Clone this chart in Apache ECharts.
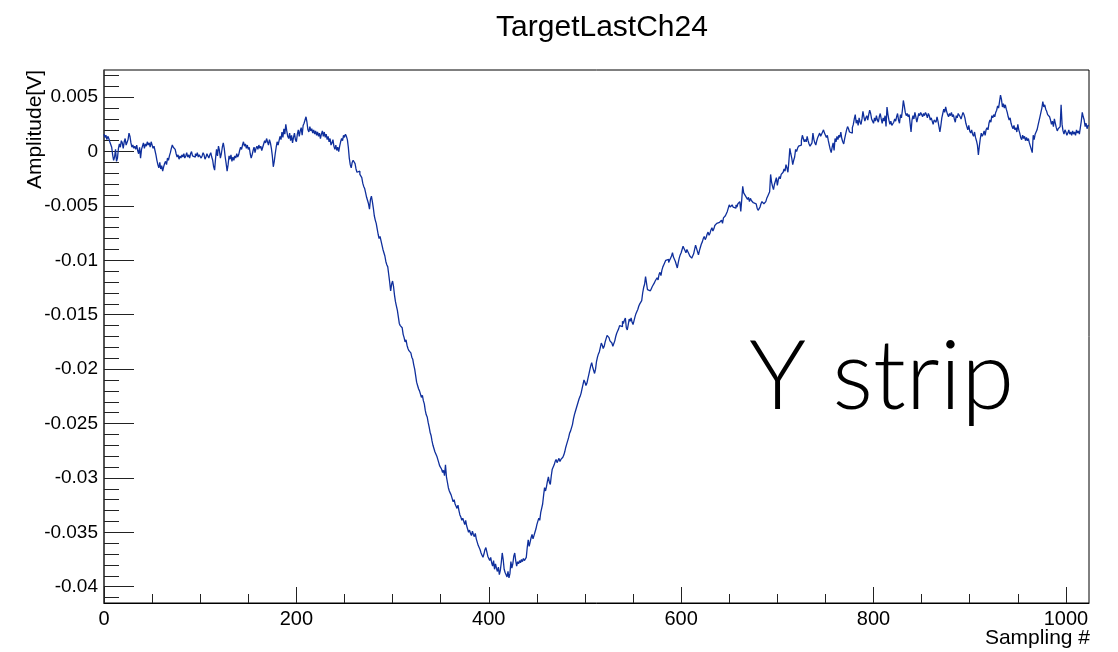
<!DOCTYPE html>
<html>
<head>
<meta charset="utf-8">
<title>TargetLastCh24</title>
<script src="https://cdn.jsdelivr.net/npm/echarts@6/dist/echarts.min.js"></script>
<style>
  html, body { margin: 0; padding: 0; background: #fff; }
  #chart { width: 1118px; height: 652px; }
</style>
</head>
<body>
<div id="chart"></div>
<script>
// Waveform amplitude per sampling bin, in millivolts (bins 0..1023)
const amplitudeMilliVolts = [
  1.6, 1.3, 1.5, 1.1, 1.4, 1.2, 0.9, 1.0, 0.4, -0.3, -0.8, -0.5, 0.2, -0.9, -0.6, 0.3,
  0.7, 0.4, 1.0, 0.8, 0.3, 0.9, 1.2, 0.6, 0.5, 1.1, 1.7, 1.4, 0.8, 0.4, 0.6, 0.3,
  0.5, 0.2, 0.6, 0.1, -0.2, 0.4, -0.6, 0.2, 0.5, 0.8, 0.3, 0.7, 0.5, 0.9, 0.6, 0.8,
  0.4, 0.9, 0.6, 0.3, 0.5, 0.1, -0.3, -0.8, -1.2, -1.5, -1.0, -1.6, -1.3, -1.8, -1.4, -1.1,
  -0.9, -1.2, -0.6, -0.8, -0.4, -0.1, 0.3, 0.6, 0.4, 0.5, 0.2, -0.2, -0.5, -0.3, -0.7, -0.4,
  -0.6, -0.3, -0.5, -0.2, -0.6, -0.4, -0.1, -0.5, -0.3, -0.6, -0.2, 0.0, -0.4, -0.3, -0.5, -0.2,
  -0.4, -0.1, -0.5, -0.3, -0.2, -0.6, -0.4, -0.1, -0.3, -0.7, -0.5, -0.2, -0.4, -0.6, -0.3, -0.1,
  -0.5, -0.8, -1.4, -1.7, -0.6, 0.2, -0.4, 0.5, 0.1, -0.6, -0.2, 0.4, 0.8, 0.3, -0.5, -1.1,
  -1.8, -1.2, -0.4, -0.7, -0.3, -0.9, -0.5, -0.8, -0.4, -0.6, -0.2, -0.5, -0.3, 0.1, 0.4, 0.2,
  0.6, 0.9, 0.5, 0.7, 0.3, 0.6, 0.2, 0.4, -0.2, -0.6, -0.3, 0.1, 0.4, -0.1, 0.3, 0.5,
  0.2, 0.6, 0.3, 0.5, 0.1, 0.4, 0.7, 1.0, 0.8, 1.2, 0.9, 0.6, 1.1, 0.8, 0.3, -0.4,
  -1.4, -0.9, -0.2, 0.4, 0.9, 0.6, 1.0, 1.4, 1.1, 1.8, 1.3, 2.1, 1.6, 2.5, 1.9, 1.4,
  1.2, 1.7, 1.0, 1.5, 0.8, 1.3, 1.7, 1.1, 0.9, 1.6, 2.0, 1.4, 1.9, 2.2, 1.5, 2.4,
  2.6, 2.9, 3.2, 2.7, 2.0, 1.8, 2.3, 1.9, 2.1, 1.7, 2.0, 1.6, 1.9, 1.5, 1.8, 1.4,
  1.7, 1.2, 1.6, 1.9, 1.4, 1.8, 1.3, 1.6, 1.1, 1.4, 0.9, 1.2, 0.6, 0.8, 1.1, 0.5,
  0.2, 0.6, 0.1, 0.4, 0.0, 0.5, 0.9, 1.2, 1.0, 1.5, 1.3, 1.6, 1.4, 1.1, 0.4, -0.6,
  -1.2, -1.5, -1.0, -0.8, -0.7, -1.1, -1.6, -1.9, -2.0, -1.8, -2.1, -2.0, -2.4, -2.9, -3.2, -3.4,
  -3.8, -4.2, -4.5, -4.8, -5.3, -4.4, -4.1, -4.6, -5.2, -5.9, -6.3, -6.6, -7.1, -7.6, -8.0, -7.8,
  -8.2, -8.6, -9.0, -9.3, -9.6, -10.1, -10.4, -10.6, -11.3, -12.0, -12.8, -12.2, -11.9, -12.4, -13.2, -13.8,
  -14.2, -14.6, -15.2, -15.8, -16.0, -15.9, -16.2, -16.8, -17.1, -17.5, -17.3, -17.8, -18.1, -18.3, -18.2, -18.5,
  -18.9, -19.1, -19.6, -20.0, -20.6, -21.2, -21.5, -21.8, -22.0, -22.3, -22.6, -22.4, -22.9, -23.2, -23.8, -24.2,
  -24.4, -24.9, -25.3, -25.8, -26.1, -26.6, -27.0, -27.3, -27.6, -27.8, -28.0, -28.3, -28.6, -28.9, -28.8, -29.2,
  -29.5, -29.3, -29.8, -28.8, -29.9, -30.4, -30.9, -31.2, -31.4, -31.6, -31.9, -32.2, -32.0, -32.4, -32.6, -32.8,
  -32.5, -33.0, -33.4, -33.6, -33.9, -33.7, -34.0, -34.3, -33.9, -34.4, -34.7, -35.0, -34.8, -35.1, -35.3, -34.9,
  -35.2, -35.4, -35.1, -35.6, -35.9, -36.2, -36.4, -36.6, -36.9, -37.1, -37.3, -37.0, -36.6, -36.4, -36.8, -37.2,
  -37.4, -37.6, -37.3, -37.8, -38.1, -37.6, -38.4, -37.9, -38.3, -38.6, -38.2, -38.9, -38.5, -37.8, -36.9, -37.5,
  -38.4, -38.7, -38.9, -39.1, -38.6, -39.2, -38.8, -37.7, -38.3, -37.9, -37.2, -36.9, -37.6, -38.1, -37.7, -37.9,
  -37.6, -37.8, -37.5, -37.7, -37.4, -37.6, -37.5, -37.3, -36.4, -35.7, -36.3, -35.9, -35.5, -35.2, -35.6, -35.3,
  -35.0, -34.7, -34.3, -34.0, -33.7, -33.9, -33.2, -32.8, -32.4, -31.6, -30.9, -31.2, -30.8, -30.3, -29.9, -30.4,
  -30.6, -29.8, -29.2, -29.0, -28.8, -28.5, -28.3, -28.6, -28.4, -28.2, -28.5, -28.3, -28.4, -28.1, -27.9, -27.6,
  -27.2, -26.9, -26.6, -26.3, -25.9, -25.7, -25.4, -25.1, -24.6, -24.2, -23.9, -23.6, -23.3, -23.0, -22.7, -22.5,
  -22.2, -21.8, -21.4, -21.0, -21.2, -21.5, -21.3, -20.9, -20.5, -20.1, -19.7, -19.4, -19.8, -20.1, -20.4, -20.0,
  -19.3, -18.9, -18.6, -18.4, -18.0, -17.6, -17.8, -18.1, -17.9, -17.5, -17.2, -16.9, -16.8, -17.1, -17.4, -17.3,
  -17.6, -17.9, -17.8, -17.4, -17.0, -16.7, -16.5, -16.3, -16.0, -15.9, -16.1, -15.6, -15.8, -15.5, -15.3, -16.2,
  -16.4, -15.9, -15.4, -15.6, -15.3, -15.7, -15.9, -15.8, -15.2, -14.9, -14.7, -14.5, -14.2, -14.0, -13.9, -13.7,
  -13.0, -12.5, -12.2, -11.5, -12.1, -12.7, -12.6, -12.8, -12.7, -12.6, -12.4, -12.3, -12.1, -11.9, -11.8, -11.6,
  -11.8, -11.3, -11.1, -11.4, -10.9, -10.6, -10.4, -10.2, -10.0, -10.1, -9.9, -10.2, -10.0, -9.8, -9.6, -9.3,
  -9.7, -9.9, -10.1, -10.4, -10.7, -10.2, -9.8, -9.5, -9.3, -9.0, -8.7, -8.9, -9.1, -9.3, -9.0, -9.2,
  -9.4, -9.6, -9.5, -9.8, -9.7, -9.4, -9.0, -8.6, -8.9, -9.2, -9.5, -9.1, -8.8, -8.5, -8.3, -8.0,
  -7.8, -8.1, -7.9, -7.6, -7.4, -7.7, -7.5, -7.2, -7.0, -7.3, -7.1, -6.8, -6.9, -6.6, -6.7, -6.5,
  -6.4, -6.6, -6.3, -6.6, -6.1, -6.0, -5.9, -5.8, -5.5, -5.2, -4.9, -5.1, -5.2, -4.9, -5.1, -5.0,
  -5.2, -4.9, -5.1, -4.8, -4.7, -4.6, -5.5, -4.4, -3.2, -3.8, -3.7, -4.1, -4.0, -4.4, -4.2, -4.6,
  -4.3, -4.5, -4.4, -4.7, -4.6, -4.8, -4.9, -5.2, -5.4, -5.5, -5.1, -4.8, -4.6, -4.5, -4.8, -4.7,
  -4.6, -4.3, -4.1, -3.9, -3.7, -2.1, -2.8, -3.2, -3.5, -3.0, -2.7, -2.4, -3.1, -2.6, -2.3, -2.5,
  -2.1, -2.2, -1.9, -1.6, -1.8, -1.2, -1.5, -1.9, -0.9, 0.3, -0.2, -0.6, -1.2, -0.8, -0.5, 0.2,
  0.0, 0.3, 0.5, 0.4, 0.6, 1.0, 1.5, 1.2, 0.9, 1.1, 0.9, 1.4, 1.0, 0.7, 0.5, 0.4,
  0.8, 1.7, 1.1, 0.8, 0.6, 1.0, 1.3, 1.5, 1.7, 1.4, 1.6, 1.8, 2.0, 1.7, 1.5, 1.3,
  1.5, 1.0, 0.6, 0.2, -0.1, 0.4, 0.8, 0.1, 1.2, 0.9, 1.4, 1.1, 1.5, 1.3, 1.8, 1.2,
  0.9, 0.7, 1.2, 1.6, 2.0, 2.3, 2.1, 1.8, 1.9, 1.7, 2.2, 2.5, 3.0, 3.4, 2.6, 2.9,
  2.4, 3.1, 2.7, 2.5, 3.0, 3.7, 3.2, 2.8, 3.1, 3.3, 2.9, 3.4, 3.8, 3.5, 3.0, 2.8,
  2.6, 3.1, 2.8, 3.3, 2.9, 2.7, 3.2, 3.5, 3.0, 2.6, 3.1, 2.8, 3.3, 2.3, 4.1, 3.4,
  2.9, 2.5, 2.8, 2.4, 2.3, 2.7, 3.0, 2.8, 3.2, 3.5, 2.9, 2.6, 3.4, 3.1, 3.8, 4.7,
  4.2, 3.6, 3.3, 3.5, 3.2, 3.4, 2.6, 1.8, 2.9, 3.3, 3.0, 3.6, 3.2, 2.7, 3.1, 3.5,
  3.3, 3.6, 3.4, 3.2, 3.5, 3.3, 3.6, 3.4, 3.1, 3.5, 3.3, 2.9, 3.1, 2.8, 2.5, 2.9,
  3.0, 2.7, 3.2, 2.8, 2.3, 1.8, 2.4, 3.1, 3.5, 3.9, 3.6, 4.1, 3.7, 3.4, 3.2, 3.5,
  3.3, 3.6, 3.2, 3.4, 3.0, 2.7, 3.3, 3.1, 3.5, 3.4, 3.2, 3.0, 3.3, 3.6, 3.4, 3.1,
  2.6, 2.3, 2.0, 2.4, 1.9, 1.7, 2.0, 1.6, 1.4, 1.8, 1.3, 1.0, 0.6, -0.3, 0.5, 1.2,
  1.7, 1.4, 1.6, 1.9, 1.5, 2.0, 2.2, 2.0, 2.6, 2.9, 2.7, 3.3, 3.1, 3.4, 3.2, 3.6,
  3.8, 4.2, 4.0, 4.6, 5.2, 4.8, 4.1, 4.4, 4.0, 4.3, 3.9, 3.6, 3.2, 2.9, 3.1, 2.6,
  2.3, 2.1, 2.4, 2.0, 2.2, 1.8, 2.5, 2.0, 1.7, 1.3, 1.1, 1.5, 1.2, 1.4, 1.0, 1.3,
  1.0, 1.2, 0.8, 0.5, 0.2, -0.1, 1.5, 1.1, 1.6, 1.8, 2.0, 2.4, 2.8, 3.2, 3.6, 4.0,
  4.6, 4.1, 4.3, 3.9, 3.7, 3.4, 3.5, 3.2, 2.9, 2.5, 2.8, 2.3, 3.0, 2.6, 2.2, 1.9,
  2.1, 2.0, 2.3, 4.3, 2.5, 1.9, 1.6, 2.0, 1.8, 1.5, 1.7, 2.0, 1.6, 1.8, 1.5, 1.9,
  1.6, 1.8, 1.5, 2.0, 1.7, 1.9, 1.6, 2.2, 2.8, 3.6, 3.2, 2.9, 2.3, 2.6, 2.1, 2.4
];

// Axis ranges and labelled ticks
const sampleRange = [0, 1024];
const amplitudeRange = [-0.0415, 0.0075];
const xMajorTicks = [0, 200, 400, 600, 800, 1000];
const yMajorTicks = [-0.04, -0.035, -0.03, -0.025, -0.02, -0.015, -0.01, -0.005, 0, 0.005];

const chartTitle = 'TargetLastCh24';
const xTitle = 'Sampling #';
const yTitle = 'Amplitude[V]';
const annotation = 'Y strip';

// Minor tick positions: every 50 samples, every 1 mV
const xMinorTicks = [];
for (let v = 50; v < 1000; v += 50) if (v % 200 !== 0) xMinorTicks.push(v);
const yMinorTicks = [];
for (let k = -41; k <= 7; k++) if (k % 5 !== 0) yMinorTicks.push(k / 1000);

// Histogram steps: each bin starts at its index; close the last bin at the range end
const points = amplitudeMilliVolts.map((mv, i) => [i, mv / 1000]);
points.push([amplitudeMilliVolts.length, amplitudeMilliVolts[amplitudeMilliVolts.length - 1] / 1000]);

const FONT = '"Liberation Sans", Arial, Helvetica, sans-serif';
const LINE_BLUE = '#0f2f9c';
const plainNumber = v => String(v);

const chart = echarts.init(document.getElementById('chart'), null, { renderer: 'canvas' });

const tickStyle = { color: '#222', width: 1 };

chart.setOption({
  animation: false,
  backgroundColor: '#ffffff',
  title: {
    text: chartTitle,
    left: 597,
    top: 8,
    textAlign: 'center',
    textStyle: { fontFamily: FONT, fontSize: 30, fontWeight: 'normal', color: '#000' }
  },
  grid: {
    left: 104, right: 29, top: 70, bottom: 49,
    show: true, borderColor: '#000', borderWidth: 1, backgroundColor: 'transparent'
  },
  xAxis: [
    {
      type: 'value', min: sampleRange[0], max: sampleRange[1],
      axisLine: { show: true, onZero: false, lineStyle: { color: '#000', width: 1 } },
      axisTick: { show: true, inside: true, length: 16, lineStyle: tickStyle, customValues: xMajorTicks },
      axisLabel: {
        customValues: xMajorTicks, margin: 6, color: '#000',
        fontFamily: FONT, fontSize: 20, formatter: plainNumber
      },
      splitLine: { show: false }
    },
    {
      type: 'value', min: sampleRange[0], max: sampleRange[1], position: 'bottom',
      axisLine: { show: false, onZero: false },
      axisTick: { show: true, inside: true, length: 9, lineStyle: tickStyle, customValues: xMinorTicks },
      axisLabel: { show: false },
      splitLine: { show: false }
    }
  ],
  yAxis: [
    {
      type: 'value', min: amplitudeRange[0], max: amplitudeRange[1],
      axisLine: { show: true, onZero: false, lineStyle: { color: '#444', width: 1.5 } },
      axisTick: { show: true, inside: true, length: 30, lineStyle: tickStyle, customValues: yMajorTicks },
      axisLabel: {
        customValues: yMajorTicks, margin: 6, color: '#000',
        fontFamily: FONT, fontSize: 19, formatter: plainNumber
      },
      splitLine: { show: false }
    },
    {
      type: 'value', min: amplitudeRange[0], max: amplitudeRange[1], position: 'left',
      axisLine: { show: false, onZero: false },
      axisTick: { show: true, inside: true, length: 15, lineStyle: tickStyle, customValues: yMinorTicks },
      axisLabel: { show: false },
      splitLine: { show: false }
    }
  ],
  series: [{
    type: 'line',
    xAxisIndex: 0,
    yAxisIndex: 0,
    step: 'end',
    data: points,
    showSymbol: false,
    symbol: 'none',
    lineStyle: { color: LINE_BLUE, width: 1.3 },
    z: 3
  }],
  graphic: [
    {
      type: 'text', x: 1090, y: 638,
      style: { text: xTitle, fontFamily: FONT, fontSize: 21, fill: '#000', align: 'right', verticalAlign: 'middle' }
    },
    {
      type: 'text', x: 35, y: 70, rotation: Math.PI / 2,
      style: { text: yTitle, fontFamily: FONT, fontSize: 21, fill: '#000', align: 'right', verticalAlign: 'middle' }
    },
    {
      type: 'text', x: 749, y: 378,
      style: { text: annotation, fontFamily: 'Lato, "Open Sans", sans-serif', fontWeight: 300, fontSize: 96, fill: '#000', align: 'left', verticalAlign: 'middle' }
    }
  ]
});
</script>
</body>
</html>
